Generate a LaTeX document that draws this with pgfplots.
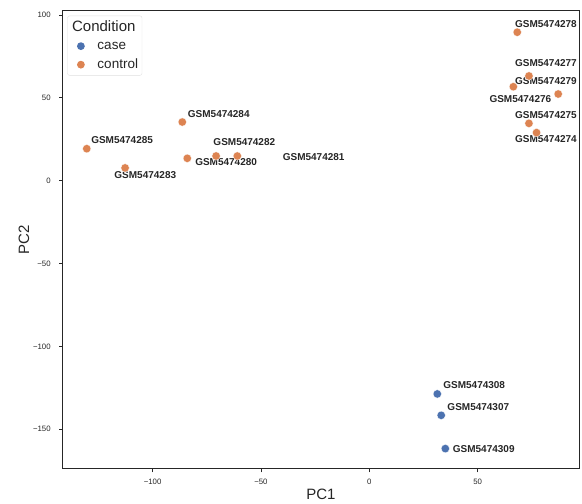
\documentclass[border=0pt]{standalone}
\usepackage{pgfplots}
\pgfplotsset{compat=1.18}
\usepackage{fontspec}
\setmainfont{Liberation Sans}
\definecolor{sbblue}{HTML}{4C72B0}
\definecolor{sborange}{HTML}{DD8452}
\definecolor{axgray}{HTML}{262626}
\begin{document}
\begin{tikzpicture}
\useasboundingbox (-62.7pt,-35pt) rectangle (519.3pt,469pt);
\begin{axis}[
  at={(0,0)}, anchor=south west,
  scale only axis, width=516.3pt, height=458pt,
  xmin=-141.5, xmax=96.8, ymin=-174, ymax=102.4,
  axis line style={axgray, line width=1pt},
  tick style={axgray, line width=0.8pt},
  tick align=outside, major tick length=3.5pt,
  xtick pos=lower, ytick pos=left,
  xtick={-100,-50,0,50}, xticklabels={−100,−50,0,50},
  ytick={-150,-100,-50,0,50,100}, yticklabels={−150,−100,−50,0,50,100},
  ticklabel style={font=\fontsize{7.8}{9}\selectfont, text=axgray},
  xticklabel style={yshift=-3pt},
  yticklabel style={xshift=-5pt},
  xlabel={PC1}, ylabel={PC2},
  every axis x label/.style={at={(axis description cs:0.5,0)}, anchor=center, yshift=-25pt,
     font=\fontsize{15}{18}\selectfont, text=axgray},
  every axis y label/.style={at={(axis description cs:0,0.5)}, anchor=center, xshift=-38.7pt, rotate=90,
     font=\fontsize{15}{18}\selectfont, text=axgray},
  legend style={at={(0,1)}, anchor=north west, xshift=4.6pt, yshift=-4.7pt,
    draw=black!12, rounded corners=2pt, fill=white,
    font=\fontsize{13.5}{16}\selectfont, text=axgray,
    inner xsep=2pt, inner ysep=3pt, row sep=4.5pt},
  legend cell align=left,
]
\addlegendimage{legend image code/.code={\path[draw=none,fill=none] (0,0) (26pt,0);}}
\addlegendentry{\hspace{-25.4pt}\fontsize{15}{18}\selectfont Condition}

\addplot[only marks, mark=*, mark size=4.2pt, mark options={fill=sbblue, draw=white, line width=0.3pt},
  legend image code/.code={\path[draw=none,fill=none] (0,-4pt) rectangle (26pt,4pt); \fill[sbblue, draw=none] (11.4pt,0) circle (3.9pt);}]
  coordinates {(31.4,-128.7) (33.2,-141.6) (35.1,-161.7)};
\addlegendentry{case}

\addplot[only marks, mark=*, mark size=4.2pt, mark options={fill=sborange, draw=white, line width=0.3pt},
  legend image code/.code={\path[draw=none,fill=none] (0,-4pt) rectangle (26pt,4pt); \fill[sborange, draw=none] (11.4pt,0) circle (3.9pt);}]
  coordinates {(68.3,89.6) (73.7,63.2) (66.5,56.7) (87.2,52.3) (73.7,34.6) (77.2,29.0)
   (-86.3,35.4) (-130.4,19.3) (-112.7,7.7) (-84.0,13.5) (-70.7,14.9) (-60.9,14.9)};
\addlegendentry{control}

\begin{scope}[every node/.style={anchor=west, inner sep=0pt, font=\bfseries\fontsize{10}{12}\selectfont, text=axgray}]
\node at (axis cs:67.2,94.6) {GSM5474278};
\node at (axis cs:67.2,71.2) {GSM5474277};
\node at (axis cs:67.2,60.2) {GSM5474279};
\node at (axis cs:55.4,49.1) {GSM5474276};
\node at (axis cs:67.2,39.5) {GSM5474275};
\node at (axis cs:67.2,25.2) {GSM5474274};
\node at (axis cs:-83.8,40.3) {GSM5474284};
\node at (axis cs:-128.4,24.4) {GSM5474285};
\node at (axis cs:-117.7,3.3) {GSM5474283};
\node at (axis cs:-80.4,11.1) {GSM5474280};
\node at (axis cs:-72.0,23.4) {GSM5474282};
\node at (axis cs:-40.0,14.5) {GSM5474281};
\node at (axis cs:34.1,-123.5) {GSM5474308};
\node at (axis cs:36.0,-136.6) {GSM5474307};
\node at (axis cs:38.5,-162.1) {GSM5474309};
\end{scope}
\end{axis}
\end{tikzpicture}
\end{document}
